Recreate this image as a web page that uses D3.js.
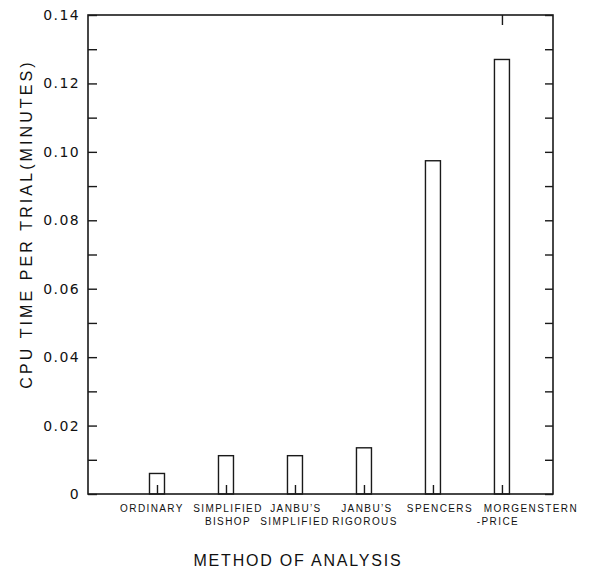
<!DOCTYPE html>
<html>
<head>
<meta charset="utf-8">
<script src="https://cdn.jsdelivr.net/npm/d3@7"></script>
<style>
  body { margin: 0; background: #fff; }
  text { font-family: "Liberation Sans", Arial, sans-serif; fill: #111; }
</style>
</head>
<body>
<div id="chart"></div>
<script>
// Chart values.
let methods = [
  ["ORDINARY"],
  ["SIMPLIFIED", "BISHOP"],
  ["JANBU\u2019S", "SIMPLIFIED"],
  ["JANBU\u2019S", "RIGOROUS"],
  ["SPENCERS"],
  ["MORGENSTERN", "-PRICE"]
];
let cpu_time = [0.006, 0.0112, 0.0112, 0.0135, 0.0974, 0.127];
let major_ticks = [0, 0.02, 0.04, 0.06, 0.08, 0.10, 0.12, 0.14];
let minor_ticks = [0.01, 0.03, 0.05, 0.07, 0.09, 0.11, 0.13];

// Small nudges so the category labels sit like the typed original.
let label_dx = [[-5], [2, 2], [1, 0], [3, 1], [7], [29, -4]];

let margin = {top: 15, right: 40, bottom: 83, left: 88},
    width = 593 - margin.left - margin.right,
    height = 577 - margin.top - margin.bottom;

let svg = d3.select("#chart")
.append("svg")
.attr("width", 593)
.attr("height", 577)
.append("g")
.attr("transform", "translate(" + margin.left + "," + margin.top + ")");

// Category i sits at i+1 on a linear scale, right edge a bit short of 7.
let x = d3.scaleLinear()
.domain([0, 6.74])
.range([0, width]);

let y = d3.scaleLinear()
.domain([0, 0.14])
.range([height, 0]);

let ink = "#1a1a1a";

// Bars.
let bar_w = 15;
svg.append("g")
.selectAll("rect")
.data(cpu_time)
.enter()
.append("rect")
.attr("x", (d, i) => x(i + 1) - bar_w / 2)
.attr("y", d => y(d))
.attr("width", bar_w)
.attr("height", d => height - y(d))
.style("fill", "none")
.style("stroke", ink)
.style("stroke-width", 1.4);

// Frame.
svg.append("rect")
.attr("x", 0)
.attr("y", 0)
.attr("width", width)
.attr("height", height)
.style("fill", "none")
.style("stroke", ink)
.style("stroke-width", 1.6);

// Left axis: labelled ticks plus minor ticks, all pointing inward.
let left = svg.append("g")
.call(d3.axisLeft(y).tickValues(major_ticks).tickSize(-9).tickPadding(8)
  .tickFormat(d => d === 0 ? "0" : d3.format(".2f")(d)));
left.select(".domain").remove();
left.selectAll("text")
.style("font-size", "14px")
.style("letter-spacing", "1.4px")
.style("font-family", "'DejaVu Sans', sans-serif");

let left_minor = svg.append("g")
.call(d3.axisLeft(y).tickValues(minor_ticks).tickSize(-9).tickFormat(""));
left_minor.select(".domain").remove();

// Right axis ticks.
let right = svg.append("g")
.attr("transform", "translate(" + width + ",0)")
.call(d3.axisRight(y).tickValues(major_ticks.concat(minor_ticks)).tickSize(-8).tickFormat(""));
right.select(".domain").remove();

// Single top tick above the last method.
let top_ax = svg.append("g")
.call(d3.axisTop(x).tickValues([6]).tickSize(-10).tickFormat(""));
top_ax.select(".domain").remove();

// Bottom ticks inside each bar.
let bottom = svg.append("g")
.attr("transform", "translate(0," + height + ")")
.call(d3.axisBottom(x).tickValues(d3.range(1, methods.length + 1)).tickSize(-9).tickFormat(""));
bottom.select(".domain").remove();

svg.selectAll(".tick line")
.attr("stroke", ink)
.attr("stroke-width", 1.4);

// Category labels, one or two lines each.
let labels = svg.append("g")
.selectAll("text")
.data(methods)
.enter()
.append("text")
.attr("text-anchor", "middle")
.attr("y", height + 18)
.style("font-size", "10px")
.style("letter-spacing", "1.4px");

labels.selectAll("tspan")
.data((d, i) => d.map((t, j) => ({t: t, i: i, j: j})))
.enter()
.append("tspan")
.attr("x", d => x(d.i + 1) + label_dx[d.i][d.j])
.attr("dy", d => d.j === 0 ? 0 : 12.5)
.text(d => d.t);

// Axis titles.
svg.append("text")
.attr("text-anchor", "middle")
.attr("x", 298 - margin.left)
.attr("y", 566 - margin.top)
.style("font-size", "16px")
.style("letter-spacing", "1.8px")
.text("METHOD OF ANALYSIS");

svg.append("text")
.attr("text-anchor", "middle")
.attr("transform", "rotate(-90)")
.attr("x", -(224 - margin.top))
.attr("y", 32 - margin.left)
.style("font-size", "16px")
.style("letter-spacing", "3.1px")
.text("CPU TIME PER TRIAL(MINUTES)");
</script>
</body>
</html>
